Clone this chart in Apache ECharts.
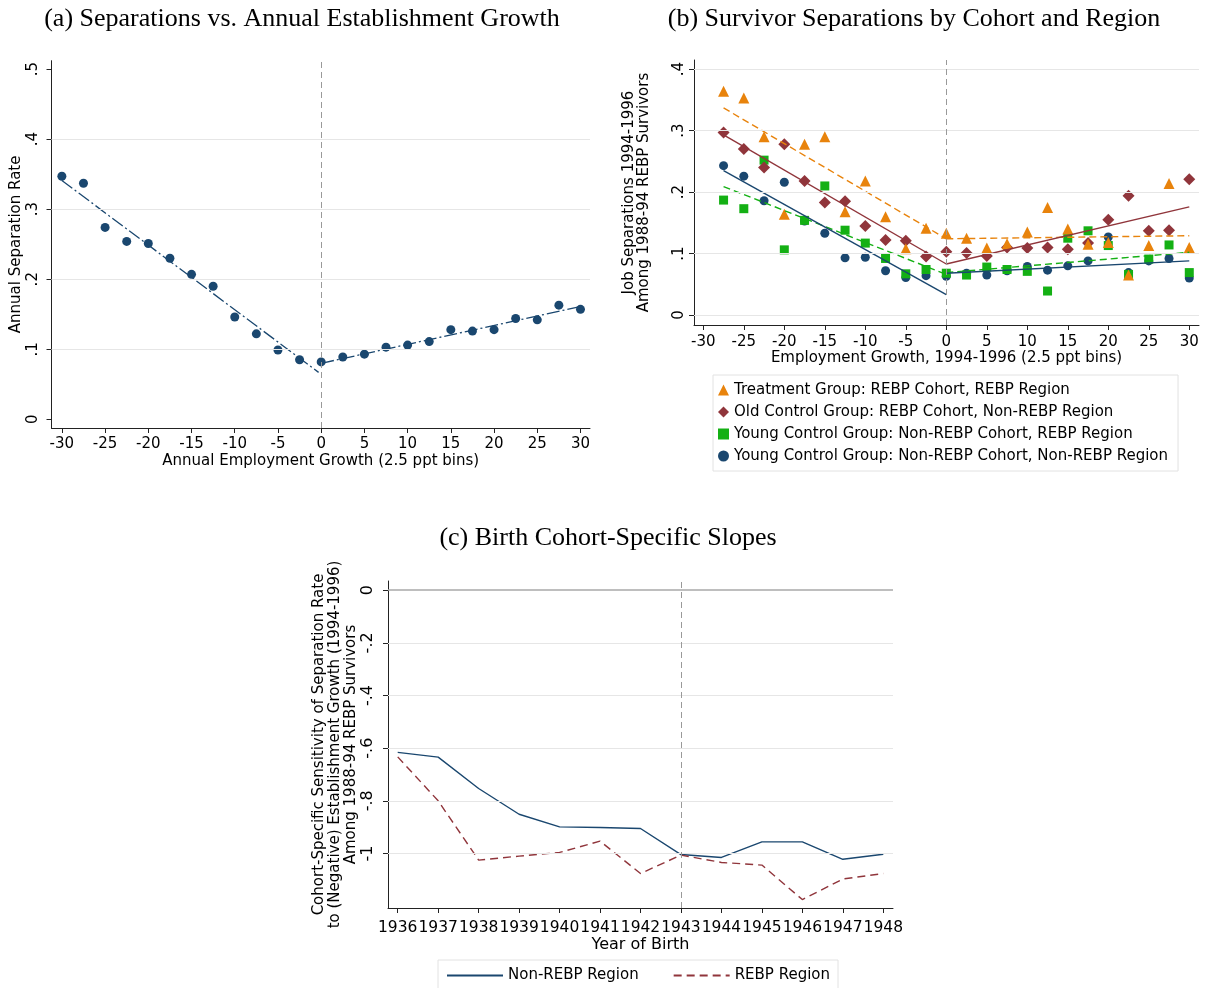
<!DOCTYPE html>
<html><head><meta charset="utf-8">
<script src="https://cdn.jsdelivr.net/npm/echarts@6/dist/echarts.min.js"></script>
<style>html,body{margin:0;padding:0;background:#fff}#c{width:1206px;height:988px}</style>
</head><body><div id="c"></div>
<script>
// ---------- Panel (a) ----------
const binsA = [-30,-27.5,-25,-22.5,-20,-17.5,-15,-12.5,-10,-7.5,-5,-2.5,0,2.5,5,7.5,10,12.5,15,17.5,20,22.5,25,27.5,30];
const sepRate = [0.347,0.337,0.274,0.254,0.251,0.230,0.207,0.190,0.146,0.122,0.099,0.085,0.082,0.089,0.093,0.103,0.106,0.111,0.128,0.126,0.128,0.144,0.142,0.163,0.157];
const fitAXLeft = [-30, -0.3];
const fitAYLeft = [0.341, 0.067];
const fitAXRight = [0, 30];
const fitAYRight = [0.080, 0.161];
const ticksAX = [-30,-25,-20,-15,-10,-5,0,5,10,15,20,25,30];
const ticksAY = [0,0.1,0.2,0.3,0.4,0.5];
const gridAY = [0.1,0.2,0.3,0.4];

// ---------- Panel (b) ----------
const binsB = [-27.5,-25,-22.5,-20,-17.5,-15,-12.5,-10,-7.5,-5,-2.5,0,2.5,5,7.5,10,12.5,15,17.5,20,22.5,25,27.5,30];
const treatSep = [0.364,0.353,0.290,0.164,0.278,0.290,0.168,0.218,0.160,0.108,0.141,0.133,0.125,0.109,0.116,0.135,0.175,0.140,0.115,0.118,0.065,0.113,0.214,0.110];
const oldCtrlSep = [0.297,0.270,0.240,0.278,0.218,0.183,0.185,0.145,0.122,0.121,0.095,0.103,0.101,0.096,0.110,0.109,0.110,0.107,0.117,0.155,0.194,0.137,0.138,0.221];
const youngRebpSep = [0.187,0.173,0.252,0.106,0.154,0.210,0.138,0.117,0.092,0.067,0.074,0.068,0.065,0.078,0.074,0.071,0.039,0.125,0.137,0.113,0.066,0.091,0.114,0.069];
const youngNonSep = [0.243,0.226,0.186,0.216,0.153,0.133,0.093,0.094,0.072,0.061,0.064,0.063,0.068,0.065,0.072,0.079,0.073,0.080,0.088,0.127,0.069,0.088,0.092,0.060];
const fitBXLeft = [-27.5, 0];
const fitBXRight = [0, 30];
const treatFitL = [0.337, 0.124], treatFitR = [0.124, 0.129];
const oldFitL = [0.293, 0.083], oldFitR = [0.083, 0.176];
const youngRebpFitL = [0.209, 0.066], youngRebpFitR = [0.069, 0.102];
const youngNonFitL = [0.235, 0.033], youngNonFitR = [0.068, 0.088];
const ticksBX = [-30,-25,-20,-15,-10,-5,0,5,10,15,20,25,30];
const ticksBY = [0,0.1,0.2,0.3,0.4];
const gridBY = [0,0.1,0.2,0.3,0.4];
const groupNames = [
  'Treatment Group: REBP Cohort, REBP Region',
  'Old Control Group: REBP Cohort, Non-REBP Region',
  'Young Control Group: Non-REBP Cohort, REBP Region',
  'Young Control Group: Non-REBP Cohort, Non-REBP Region'
];

// ---------- Panel (c) ----------
const birthYears = [1936,1937,1938,1939,1940,1941,1942,1943,1944,1945,1946,1947,1948];
const slopeNonRebp = [-0.616,-0.634,-0.753,-0.851,-0.899,-0.901,-0.905,-1.004,-1.015,-0.956,-0.956,-1.022,-1.003];
const slopeRebp = [-0.633,-0.800,-1.025,-1.010,-0.996,-0.953,-1.076,-1.006,-1.034,-1.044,-1.175,-1.097,-1.076];
const ticksCY = [0,-0.2,-0.4,-0.6,-0.8,-1];
const gridCY = [-0.2,-0.4,-0.6,-0.8,-1];

// ---------- styling ----------
const SANS = 'DejaVu Sans';
const SERIF = 'Liberation Serif';
const NAVY = '#1a476f', ORANGE = '#e8830c', MAROON = '#90353b', GREEN = '#14b014';
const GRIDC = '#e6e6e6', AXC = '#222';

function fmt(v){
  if (Math.abs(v) < 1e-9) return '0';
  const s = String(Math.round(v*100)/100);
  return s.replace(/^(-?)0\./, '$1.');
}
function pairs(xs, ys){ return xs.map((x,i)=>[x, ys[i]]); }

function xAx(idx, min, max, ticks, name, fs, nameGap, fsName, margin){
  return {
    type:'value', gridIndex: idx, min, max,
    name, nameLocation:'middle', nameGap,
    nameTextStyle:{fontFamily:SANS, fontSize:fsName, color:'#000'},
    axisLine:{show:true, onZero:false, lineStyle:{color:AXC, width:1}},
    axisTick:{show:true, length:5, customValues:ticks, lineStyle:{color:AXC}},
    axisLabel:{customValues:ticks, fontFamily:SANS, fontSize:fs, color:'#000', margin:margin,
      showMinLabel:true, showMaxLabel:true, hideOverlap:false, formatter:(v)=>String(v)},
    splitLine:{show:false}
  };
}
function yAx(idx, min, max, ticks, name, fs, nameGap, fsName, margin, lh){
  return {
    type:'value', gridIndex: idx, min, max,
    name, nameLocation:'middle', nameGap, nameRotate:90,
    nameTextStyle:{fontFamily:SANS, fontSize:fsName, color:'#000', lineHeight:lh||fsName+2},
    axisLine:{show:true, onZero:false, lineStyle:{color:AXC, width:1}},
    axisTick:{show:true, length:5, customValues:ticks, lineStyle:{color:AXC}},
    axisLabel:{customValues:ticks, rotate:90, fontFamily:SANS, fontSize:fs, color:'#000', margin,
      showMinLabel:true, showMaxLabel:true, hideOverlap:false, formatter:fmt},
    splitLine:{show:false}
  };
}
function guideSeries(idx, gridVals, vline, zeroLine){
  const d = gridVals.map(v=>({yAxis:v, lineStyle:{color:GRIDC, width:1.2, type:'solid'}}));
  if (zeroLine !== undefined) d.push({yAxis:zeroLine, lineStyle:{color:'#a8a8a8', width:1.6, type:'solid'}});
  d.push({xAxis:vline, lineStyle:{color:'#999', width:1, type:[6,4]}});
  return {
    type:'line', xAxisIndex:idx, yAxisIndex:idx, data:[], silent:true, z:1,
    markLine:{silent:true, symbol:['none','none'], label:{show:false}, animation:false, data:d}
  };
}
function fitLine(idx, xs, ys, color, dash, width){
  return {type:'line', xAxisIndex:idx, yAxisIndex:idx, data:pairs(xs, ys), symbol:'none', silent:true, z:3,
    lineStyle:{color, width:width||1.4, type:dash}};
}
function scat(name, xs, ys, symbol, size, color){
  return {type:'scatter', name, xAxisIndex:1, yAxisIndex:1, data:pairs(xs, ys), symbol, symbolSize:size,
    itemStyle:{color, opacity:1}, z:2};
}

const option = {
  animation:false,
  backgroundColor:'#fff',
  title:[
    {text:'(a) Separations vs. Annual Establishment Growth', left:297, top:1, textAlign:'center',
     textStyle:{fontFamily:SERIF, fontWeight:'normal', fontSize:26, color:'#000'}},
    {text:'(b) Survivor Separations by Cohort and Region', left:909, top:1, textAlign:'center',
     textStyle:{fontFamily:SERIF, fontWeight:'normal', fontSize:26, color:'#000'}},
    {text:'(c) Birth Cohort-Specific Slopes', left:603, top:520, textAlign:'center',
     textStyle:{fontFamily:SERIF, fontWeight:'normal', fontSize:26, color:'#000'}}
  ],
  grid:[
    {left:51.5, top:60.7, right:616, bottom:560},
    {left:694, top:60, right:7, bottom:663},
    {left:388, top:581, right:313, bottom:80}
  ],
  xAxis:[
    xAx(0, -31.2, 31.1, ticksAX, 'Annual Employment Growth (2.5 ppt bins)', 15, 26, 15, 9),
    xAx(1, -31.15, 31.2, ticksBX, 'Employment Growth, 1994-1996 (2.5 ppt bins)', 15, 26, 15, 10),
    xAx(2, 1935.76, 1948.24, birthYears, 'Year of Birth', 15.5, 27, 16, 12)
  ],
  yAxis:[
    yAx(0, -0.0124, 0.512, ticksAY, 'Annual Separation Rate', 15, 26, 15, 11),
    yAx(1, -0.0163, 0.415, ticksBY, 'Job Separations 1994-1996\nAmong 1988-94 REBP Survivors', 15, 42, 15, 7, 15),
    yAx(2, -1.207, 0.035, ticksCY, 'Cohort-Specific Sensitivity of Separation Rate\nto (Negative) Establishment Growth (1994-1996)\nAmong 1988-94 REBP Survivors', 16, 27, 15, 12, 16)
  ],
  legend:[
    {data:[groupNames[0],groupNames[1],groupNames[2],groupNames[3]], orient:'vertical', left:713, top:375,
     itemWidth:11, itemHeight:11, itemGap:4, padding:[6,10,6,5], borderColor:'#e2e2e2', borderWidth:1,
     textStyle:{fontFamily:SANS, fontSize:15, color:'#000', lineHeight:18}},
    {data:['Non-REBP Region','REBP Region'], orient:'horizontal', left:438, top:960,
     itemWidth:56, itemHeight:12, itemGap:34, padding:[8,8,12,8], borderColor:'#e2e2e2', borderWidth:1,
     textStyle:{fontFamily:SANS, fontSize:15, color:'#000'}}
  ],
  series:[
    // panel a
    guideSeries(0, gridAY, 0),
    {type:'scatter', name:'sepA', xAxisIndex:0, yAxisIndex:0, data:pairs(binsA, sepRate), symbol:'circle', symbolSize:9,
     itemStyle:{color:NAVY, opacity:1}, z:2},
    fitLine(0, fitAXLeft, fitAYLeft, NAVY, [13,3,2,3], 1.3),
    fitLine(0, fitAXRight, fitAYRight, NAVY, [13,3,2,3], 1.3),
    // panel b
    guideSeries(1, gridBY, 0),
    scat(groupNames[3], binsB, youngNonSep, 'circle', 9, NAVY),
    scat(groupNames[2], binsB, youngRebpSep, 'rect', 9, GREEN),
    scat(groupNames[1], binsB, oldCtrlSep, 'diamond', 12, MAROON),
    scat(groupNames[0], binsB, treatSep, 'triangle', 11, ORANGE),
    fitLine(1, fitBXLeft, treatFitL, ORANGE, [7,4]),
    fitLine(1, fitBXRight, treatFitR, ORANGE, [7,4]),
    fitLine(1, fitBXLeft, oldFitL, MAROON, 'solid'),
    fitLine(1, fitBXRight, oldFitR, MAROON, 'solid'),
    fitLine(1, fitBXLeft, youngRebpFitL, GREEN, [7,4]),
    fitLine(1, fitBXRight, youngRebpFitR, GREEN, [7,4]),
    fitLine(1, fitBXLeft, youngNonFitL, NAVY, 'solid'),
    fitLine(1, fitBXRight, youngNonFitR, NAVY, 'solid'),
    // panel c
    guideSeries(2, gridCY, 1943, 0),
    {type:'line', name:'Non-REBP Region', xAxisIndex:2, yAxisIndex:2, data:pairs(birthYears, slopeNonRebp), symbol:'none',
     lineStyle:{color:NAVY, width:1.4, type:'solid'}, itemStyle:{color:NAVY, opacity:0}, z:3},
    {type:'line', name:'REBP Region', xAxisIndex:2, yAxisIndex:2, data:pairs(birthYears, slopeRebp), symbol:'none',
     lineStyle:{color:MAROON, width:1.4, type:[8,5]}, itemStyle:{color:MAROON, opacity:0}, z:3}
  ]
};
const chart = echarts.init(document.getElementById('c'), null, {renderer:'canvas'});
chart.setOption(option);
</script>
</body></html>
